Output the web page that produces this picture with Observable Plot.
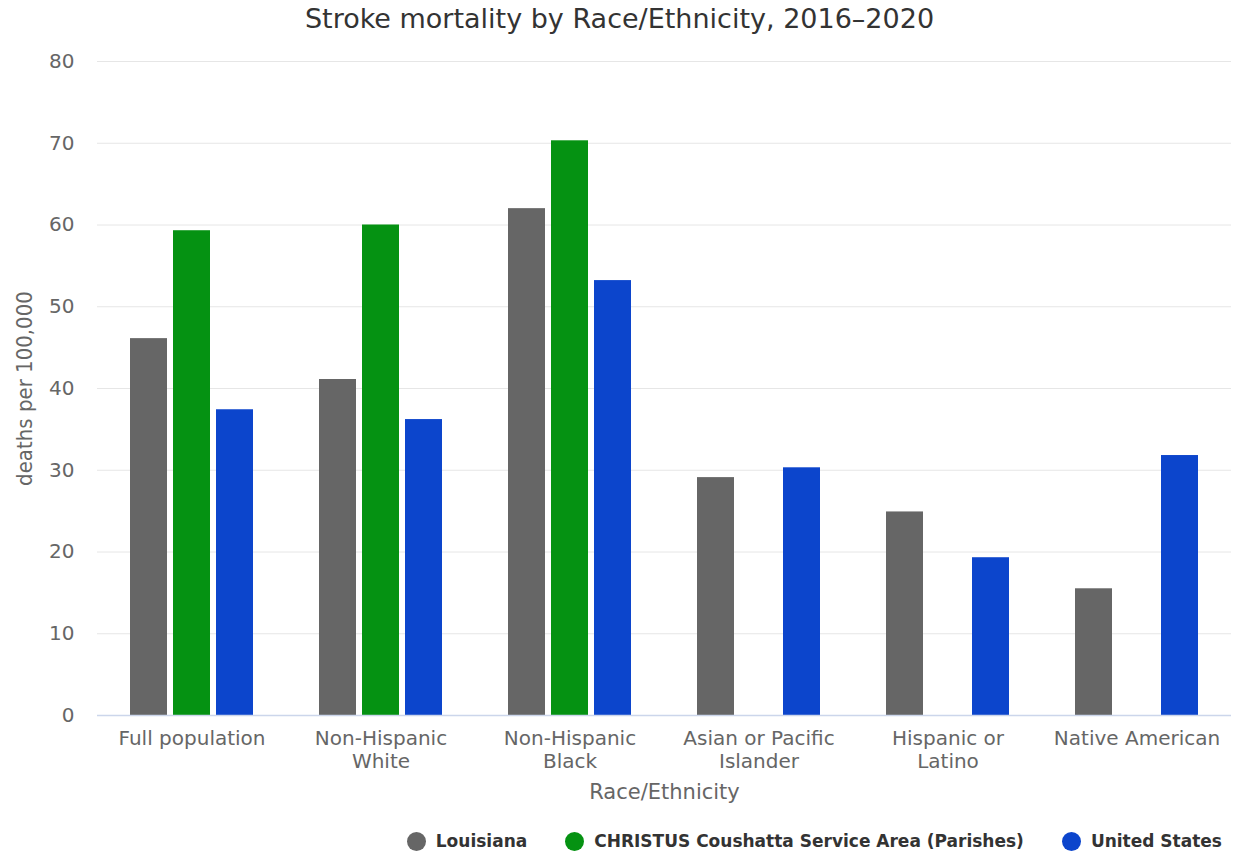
<!DOCTYPE html>
<html>
<head>
<meta charset="utf-8">
<script src="https://cdn.jsdelivr.net/npm/d3@7"></script>
<script src="https://cdn.jsdelivr.net/npm/@observablehq/plot@0.6"></script>
<style>
  html, body { margin: 0; padding: 0; background: #fff; }
  #wrap { width: 1233px; height: 854px; position: relative; overflow: hidden; }
  #title { position: absolute; top: 0; left: 3px; width: 1233px; text-align: center;
    font-family: "DejaVu Sans", sans-serif; font-size: 27px; color: #333;
    line-height: 37px; }
  #chart { position: absolute; top: 36px; left: 0; }
  #legend { position: absolute; top: 830px; right: 11px; display: flex; align-items: center;
    font-family: "DejaVu Sans", sans-serif; font-weight: bold; font-size: 17px; color: #333; line-height: 22px; }
  .item { display: flex; align-items: center; margin-left: 38px; }
  .dot { width: 19px; height: 19px; border-radius: 50%; margin-right: 10px; }
</style>
</head>
<body>
<div id="wrap">
  <div id="title">Stroke mortality by Race/Ethnicity, 2016–2020</div>
  <div id="chart"></div>
  <div id="legend"></div>
</div>
<script>
const categories = ["Full population", "Non-Hispanic White", "Non-Hispanic Black", "Asian or Pacific Islander", "Hispanic or Latino", "Native American"];
const tickLabels = ["Full population", "Non-Hispanic\nWhite", "Non-Hispanic\nBlack", "Asian or Pacific\nIslander", "Hispanic or\nLatino", "Native American"];
const seriesNames = ["Louisiana", "CHRISTUS Coushatta Service Area (Parishes)", "United States"];
const louisiana = [46.1, 41.1, 62.0, 29.1, 24.9, 15.5];
const christus = [59.3, 60.0, 70.3, null, null, null];
const unitedStates = [37.4, 36.2, 53.2, 30.3, 19.3, 31.8];
const colors = ["#666666", "#059212", "#0c45cc"];
const yTicks = [0, 10, 20, 30, 40, 50, 60, 70, 80];

const seriesValues = [louisiana, christus, unitedStates];
const rows = [];
categories.forEach((c, i) => {
  seriesNames.forEach((s, j) => {
    const v = seriesValues[j][i];
    if (v != null) rows.push({category: c, series: s, value: v});
  });
});
const labelOf = new Map(categories.map((c, i) => [c, tickLabels[i]]));

const plot = Plot.plot({
  width: 1233,
  height: 774,
  marginTop: 25,
  marginLeft: 95,
  marginRight: 0,
  marginBottom: 95,
  style: {fontFamily: "DejaVu Sans, sans-serif", background: "#fff"},
  fx: {domain: categories, padding: 0, label: null, axis: null},
  x: {domain: seriesNames, paddingInner: 0.136, paddingOuter: 0.725, axis: null},
  y: {domain: [0, 80], axis: null},
  color: {domain: seriesNames, range: colors},
  marks: [
    Plot.ruleY(yTicks, {stroke: "#e6e6e6", strokeWidth: 1}),
    Plot.barY(rows, {fx: "category", x: "series", y: "value", fill: "series"}),
    Plot.ruleY([0], {stroke: "#ccd6eb", strokeWidth: 1.5}),
    Plot.axisY(yTicks, {tickSize: 0, tickPadding: 23, fontSize: 20, fill: "#666", label: null, textAnchor: "end"}),
    Plot.axisFx({anchor: "bottom", tickSize: 0, tickPadding: 13, fontSize: 20, fill: "#666", label: null, lineHeight: 1.15,
      tickFormat: d => labelOf.get(d)}),
    Plot.text(["deaths per 100,000"], {frameAnchor: "left", dx: -73, rotate: -90, textAnchor: "middle", fontSize: 22, fill: "#666",
      fontFamily: "DejaVu Sans Condensed, DejaVu Sans, sans-serif", facet: "super"}),
    Plot.text(["Race/Ethnicity"], {frameAnchor: "bottom", dy: 83, fontSize: 21, fill: "#666", facet: "super"})
  ]
});
document.getElementById("chart").appendChild(plot);

const legend = document.getElementById("legend");
seriesNames.forEach((s, j) => {
  const item = document.createElement("div");
  item.className = "item";
  const dot = document.createElement("div");
  dot.className = "dot";
  dot.style.background = colors[j];
  const t = document.createElement("span");
  t.textContent = s;
  item.appendChild(dot);
  item.appendChild(t);
  legend.appendChild(item);
});
</script>
</body>
</html>
